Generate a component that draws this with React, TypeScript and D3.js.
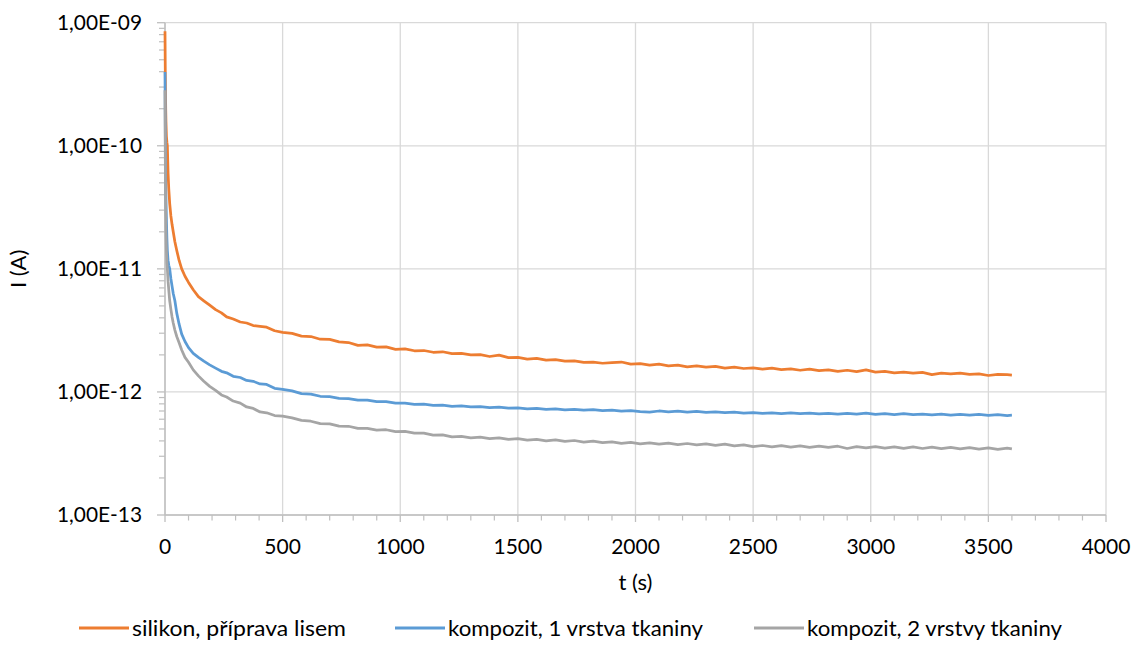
import React from "react";
import * as d3 from "d3";

const TIME = [
  0, 1, 2, 3, 4, 6, 8, 10, 13, 16, 20, 25, 30, 35, 42, 50, 60, 71, 85, 100, 120, 142, 165, 190, 215, 240, 262, 290, 320, 347, 375, 404, 432, 466, 500,
  540, 580, 620, 660, 700, 740, 780, 820, 860, 900, 940, 980, 1020, 1060, 1100, 1140, 1180, 1220, 1260, 1300,
  1340, 1380, 1420, 1460, 1500, 1540, 1580, 1620, 1660, 1700, 1740, 1780, 1820, 1860, 1900, 1940, 1980, 2020,
  2060, 2100, 2140, 2180, 2220, 2260, 2300, 2340, 2380, 2420, 2460, 2500, 2540, 2580, 2620, 2660, 2700, 2740,
  2780, 2820, 2860, 2900, 2940, 2980, 3020, 3060, 3100, 3140, 3180, 3220, 3260, 3300, 3340, 3380, 3420, 3460,
  3500, 3540, 3580, 3600,
];

const SILIKON = [
  8.51e-10, 4.47e-10, 2.82e-10, 2.0e-10, 1.58e-10, 1.2e-10, 1.07e-10, 1.0e-10, 6.03e-11, 4.47e-11, 3.39e-11, 2.69e-11, 2.29e-11, 2.0e-11, 1.66e-11, 1.41e-11, 1.17e-11, 1.0e-11, 8.71e-12, 7.76e-12, 6.76e-12, 5.94e-12, 5.5e-12, 5.07e-12, 4.66e-12, 4.39e-12, 4.07e-12, 3.91e-12, 3.7e-12, 3.63e-12, 3.46e-12, 3.41e-12, 3.36e-12, 3.14e-12, 3.05e-12,
  2.99e-12, 2.84e-12, 2.82e-12, 2.68e-12, 2.67e-12, 2.55e-12, 2.52e-12, 2.39e-12, 2.41e-12, 2.31e-12, 2.32e-12, 2.22e-12, 2.24e-12, 2.16e-12, 2.17e-12, 2.1e-12, 2.12e-12, 2.05e-12, 2.06e-12, 2.0e-12,
  2.01e-12, 1.94e-12, 1.99e-12, 1.9e-12, 1.91e-12, 1.85e-12, 1.87e-12, 1.81e-12, 1.83e-12, 1.78e-12, 1.79e-12, 1.74e-12, 1.75e-12, 1.71e-12, 1.73e-12, 1.75e-12, 1.68e-12, 1.7e-12,
  1.65e-12, 1.68e-12, 1.63e-12, 1.65e-12, 1.6e-12, 1.63e-12, 1.59e-12, 1.61e-12, 1.56e-12, 1.59e-12, 1.55e-12, 1.57e-12, 1.53e-12, 1.56e-12, 1.52e-12, 1.54e-12, 1.5e-12, 1.53e-12,
  1.49e-12, 1.51e-12, 1.47e-12, 1.5e-12, 1.46e-12, 1.51e-12, 1.45e-12, 1.47e-12, 1.43e-12, 1.45e-12, 1.42e-12, 1.44e-12, 1.38e-12, 1.42e-12, 1.4e-12, 1.42e-12, 1.39e-12, 1.4e-12,
  1.36e-12, 1.39e-12, 1.38e-12, 1.37e-12,
];

const KOMPOZIT_1 = [
  3.98e-10, 1.58e-10, 7.94e-11, 5.01e-11, 3.86e-11, 2.51e-11, 1.78e-11, 1.41e-11, 1.17e-11, 1.07e-11, 1.0e-11, 8.32e-12, 7.24e-12, 6.31e-12, 5.5e-12, 4.37e-12, 3.55e-12, 2.95e-12, 2.57e-12, 2.29e-12, 2.06e-12, 1.91e-12, 1.78e-12, 1.66e-12, 1.56e-12, 1.47e-12, 1.43e-12, 1.34e-12, 1.31e-12, 1.24e-12, 1.22e-12, 1.16e-12, 1.15e-12, 1.07e-12, 1.05e-12,
  1.02e-12, 9.7e-13, 9.6e-13, 9.22e-13, 9.15e-13, 8.85e-13, 8.83e-13, 8.58e-13, 8.57e-13, 8.33e-13, 8.35e-13, 8.1e-13, 8.12e-13, 7.92e-13, 7.96e-13, 7.78e-13, 7.82e-13, 7.64e-13, 7.7e-13, 7.55e-13,
  7.61e-13, 7.46e-13, 7.52e-13, 7.37e-13, 7.41e-13, 7.28e-13, 7.34e-13, 7.21e-13, 7.29e-13, 7.16e-13, 7.23e-13, 7.1e-13, 7.18e-13, 7.05e-13, 7.11e-13, 6.99e-13, 7.05e-13, 6.93e-13,
  6.85e-13, 7.0e-13, 6.89e-13, 6.97e-13, 6.86e-13, 6.94e-13, 6.83e-13, 6.9e-13, 6.8e-13, 6.86e-13, 6.74e-13, 6.79e-13, 6.69e-13, 6.77e-13, 6.67e-13, 6.75e-13, 6.65e-13, 6.73e-13,
  6.63e-13, 6.7e-13, 6.61e-13, 6.68e-13, 6.6e-13, 6.72e-13, 6.58e-13, 6.66e-13, 6.55e-13, 6.66e-13, 6.53e-13, 6.61e-13, 6.51e-13, 6.6e-13, 6.49e-13, 6.58e-13, 6.47e-13, 6.57e-13,
  6.44e-13, 6.54e-13, 6.43e-13, 6.47e-13,
];

const KOMPOZIT_2 = [
  2.82e-10, 1.0e-10, 4.47e-11, 2.82e-11, 2.0e-11, 1.41e-11, 1.12e-11, 1.0e-11, 7.94e-12, 6.76e-12, 5.5e-12, 4.68e-12, 4.07e-12, 3.63e-12, 3.18e-12, 2.82e-12, 2.51e-12, 2.19e-12, 1.91e-12, 1.74e-12, 1.51e-12, 1.35e-12, 1.22e-12, 1.11e-12, 1.03e-12, 9.45e-13, 9.1e-13, 8.43e-13, 8.1e-13, 7.55e-13, 7.34e-13, 6.88e-13, 6.77e-13, 6.43e-13, 6.36e-13,
  6.16e-13, 5.87e-13, 5.78e-13, 5.52e-13, 5.5e-13, 5.27e-13, 5.26e-13, 5.05e-13, 5.06e-13, 4.89e-13, 4.93e-13, 4.75e-13, 4.78e-13, 4.62e-13, 4.62e-13, 4.46e-13, 4.48e-13, 4.31e-13, 4.36e-13, 4.24e-13,
  4.29e-13, 4.18e-13, 4.24e-13, 4.12e-13, 4.17e-13, 4.06e-13, 4.12e-13, 4.01e-13, 4.08e-13, 3.96e-13, 4.03e-13, 3.91e-13, 3.98e-13, 3.87e-13, 3.93e-13, 3.82e-13, 3.89e-13, 3.79e-13,
  3.86e-13, 3.76e-13, 3.83e-13, 3.73e-13, 3.81e-13, 3.71e-13, 3.78e-13, 3.68e-13, 3.76e-13, 3.64e-13, 3.71e-13, 3.59e-13, 3.67e-13, 3.57e-13, 3.66e-13, 3.56e-13, 3.65e-13, 3.55e-13,
  3.63e-13, 3.54e-13, 3.62e-13, 3.47e-13, 3.6e-13, 3.51e-13, 3.6e-13, 3.5e-13, 3.58e-13, 3.48e-13, 3.57e-13, 3.47e-13, 3.56e-13, 3.46e-13, 3.54e-13, 3.44e-13, 3.53e-13, 3.43e-13,
  3.51e-13, 3.42e-13, 3.5e-13, 3.45e-13,
];

const SERIES_NAMES = ["silikon, příprava lisem", "kompozit, 1 vrstva tkaniny", "kompozit, 2 vrstvy tkaniny"];
const SERIES_COLORS = ["#ED7D31", "#5B9BD5", "#A5A5A5"];

const Y_TICKS = [1e-9, 1e-10, 1e-11, 1e-12, 1e-13];
const Y_TICK_LABELS = ["1,00E-09", "1,00E-10", "1,00E-11", "1,00E-12", "1,00E-13"];
const X_TICKS = [0, 500, 1000, 1500, 2000, 2500, 3000, 3500, 4000];
const X_TITLE = "t (s)";
const Y_TITLE = "I (A)";

const W = 1139;
const H = 669;
const LEFT = 165;
const RIGHT = 1106;
const TOP = 22.7;
const BOTTOM = 515;
const FONT = "Lato, 'Open Sans', sans-serif";
const FS = 21;

export default function App() {
  const x = d3.scaleLinear().domain([0, 4000]).range([LEFT, RIGHT]);
  const y = d3.scaleLog().domain([1e-13, 1e-9]).range([BOTTOM, TOP]);

  const series = [SILIKON, KOMPOZIT_1, KOMPOZIT_2];
  const line = d3
    .line<[number, number]>()
    .x((d) => x(d[0]))
    .y((d) => y(d[1]));

  const minorY: number[] = [];
  for (let k = -13; k < -9; k++) {
    for (let m = 2; m <= 9; m++) minorY.push(m * Math.pow(10, k));
  }
  const minorX: number[] = [];
  for (let t = 0; t <= 4000; t += 100) if (t % 500 !== 0) minorX.push(t);

  const legendItems = [
    { lx: 79, tx: 132, len: 214 },
    { lx: 395, tx: 448, len: 255 },
    { lx: 754, tx: 807, len: 255 },
  ];
  const legendY = 628;

  return (
    <svg
      width={W}
      height={H}
      style={{ position: "absolute", left: 0, top: 0, background: "#fff" }}
      fontFamily={FONT}
    >
      <rect x={0} y={0} width={W} height={H} fill="#fff" />
      {/* grid */}
      {X_TICKS.map((t) => (
        <line key={"gx" + t} x1={x(t)} x2={x(t)} y1={TOP} y2={BOTTOM} stroke="#d9d9d9" strokeWidth={1.3} />
      ))}
      {Y_TICKS.map((v) => (
        <line key={"gy" + v} x1={LEFT} x2={RIGHT} y1={y(v)} y2={y(v)} stroke="#d9d9d9" strokeWidth={1.3} />
      ))}
      {/* y minor ticks */}
      {minorY.map((v, i) => (
        <line key={"my" + i} x1={159} x2={LEFT} y1={y(v)} y2={y(v)} stroke="#bfbfbf" strokeWidth={1.2} />
      ))}
      {Y_TICKS.map((v) => (
        <line key={"ty" + v} x1={157} x2={LEFT} y1={y(v)} y2={y(v)} stroke="#bfbfbf" strokeWidth={1.3} />
      ))}
      {/* x ticks */}
      {minorX.map((t) => (
        <line key={"mx" + t} x1={x(t)} x2={x(t)} y1={BOTTOM} y2={BOTTOM + 5.5} stroke="#bfbfbf" strokeWidth={1.2} />
      ))}
      {X_TICKS.map((t) => (
        <line key={"tx" + t} x1={x(t)} x2={x(t)} y1={BOTTOM} y2={BOTTOM + 7} stroke="#bfbfbf" strokeWidth={1.3} />
      ))}
      {/* axes */}
      <line x1={LEFT} x2={LEFT} y1={TOP} y2={BOTTOM} stroke="#bfbfbf" strokeWidth={1.5} />
      <line x1={LEFT} x2={RIGHT} y1={BOTTOM} y2={BOTTOM} stroke="#bfbfbf" strokeWidth={1.5} />

      {/* series */}
      {series.map((vals, si) => (
        <path
          key={"s" + si}
          d={line(TIME.map((t, i) => [t, vals[i]] as [number, number])) || ""}
          fill="none"
          stroke={SERIES_COLORS[si]}
          strokeWidth={2.75}
          strokeLinejoin="round"
        />
      ))}

      {/* y labels */}
      {Y_TICKS.map((v, i) => (
        <text
          key={"ly" + v}
          x={142}
          y={y(v)}
          dy="0.35em"
          textAnchor="end"
          fontSize={FS}
          fill="#000"
          textLength={85}
          lengthAdjust="spacingAndGlyphs"
        >
          {Y_TICK_LABELS[i]}
        </text>
      ))}
      {/* x labels */}
      {X_TICKS.map((t) => (
        <text key={"lx" + t} x={x(t)} y={554} textAnchor="middle" fontSize={FS} fill="#000">
          {t}
        </text>
      ))}
      <text x={(LEFT + RIGHT) / 2} y={590} textAnchor="middle" fontSize={FS + 1} fill="#000">
        {X_TITLE}
      </text>
      <text
        transform={`translate(${26},${(TOP + BOTTOM) / 2}) rotate(-90)`}
        textAnchor="middle"
        fontSize={FS + 1}
        fill="#000"
      >
        {Y_TITLE}
      </text>

      {/* legend */}
      {legendItems.map((it, i) => (
        <g key={"lg" + i}>
          <line x1={it.lx} x2={it.lx + 50} y1={legendY} y2={legendY} stroke={SERIES_COLORS[i]} strokeWidth={3} />
          <text
            x={it.tx}
            y={legendY}
            dy="0.35em"
            fontSize={FS + 1}
            fill="#000"
            textLength={it.len}
            lengthAdjust="spacingAndGlyphs"
          >
            {SERIES_NAMES[i]}
          </text>
        </g>
      ))}
    </svg>
  );
}
